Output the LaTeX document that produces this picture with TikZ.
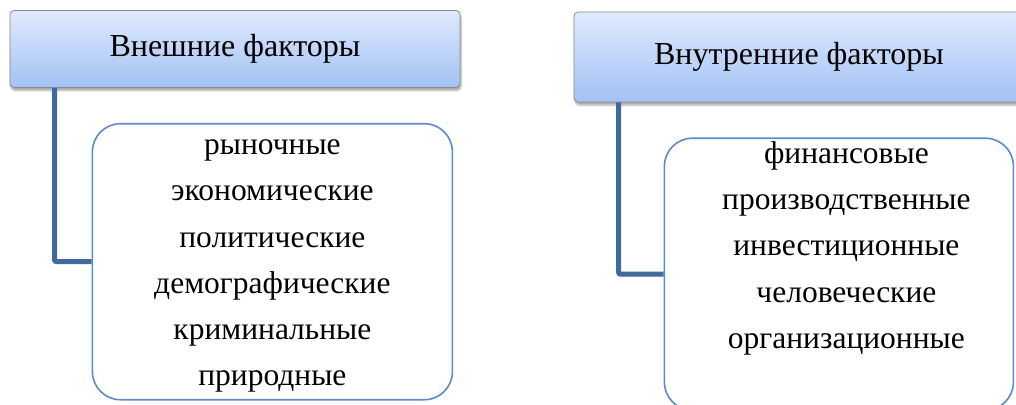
\documentclass[tikz,border=0pt]{standalone}
\usepackage{fontspec}
\setmainfont{Liberation Serif}
\usetikzlibrary{positioning,shadows.blur}

\definecolor{headtop}{HTML}{DFEAFD}
\definecolor{headbottom}{HTML}{A3C1F4}
\definecolor{headline}{HTML}{8C8C8C}
\definecolor{linkblue}{HTML}{3F6A9B}
\definecolor{boxblue}{HTML}{5B8BCB}

\tikzset{
  head/.style={draw=headline, line width=0.8pt, rounded corners=4pt,
    top color=headtop, bottom color=headbottom, minimum width=450pt, inner sep=0pt,
    font=\fontsize{32}{38}\selectfont,
    blur shadow={shadow xshift=1pt, shadow yshift=-3pt, shadow blur steps=6, shadow opacity=35}},
  listbox/.style={draw=boxblue, line width=1.6pt, rounded corners=28pt, fill=white, inner sep=0pt},
  listtext/.style={align=center, font=\fontsize{31.5}{46.3}\selectfont, inner sep=0pt},
  link/.style={draw=linkblue, line width=5pt, rounded corners=2pt}
}

\begin{document}
\begin{tikzpicture}[x=1pt,y=-1pt]
\useasboundingbox (0,0) rectangle (1016,404);
\clip (0,0) rectangle (1016,404);

\node[head, minimum height=77pt] (ext) at (235,49) {Внешние факторы};
\node[head, minimum height=90pt] (int) at (799,57) {Внутренние факторы};

\node[listbox, minimum width=360pt, minimum height=276pt,
  below right=35pt and 82pt of ext.south west] (extlist) {};
\node[listbox, minimum width=349pt, minimum height=272pt,
  below right=35pt and 90pt of int.south west] (intlist) {};

\draw[link] ([xshift=45pt]ext.south west) |- (extlist.west);
\draw[link] ([xshift=45pt]int.south west) |- (intlist.west);

% base = baseline of the last line
\node[listtext, anchor=base] (extitems) at ([yshift=-263pt]extlist.north)
  {рыночные\\экономические\\политические\\демографические\\криминальные\\природные};
\node[listtext, anchor=base] (intitems) at ([xshift=7.5pt,yshift=-211pt]intlist.north)
  {финансовые\\производственные\\инвестиционные\\человеческие\\организационные};
\end{tikzpicture}
\end{document}
